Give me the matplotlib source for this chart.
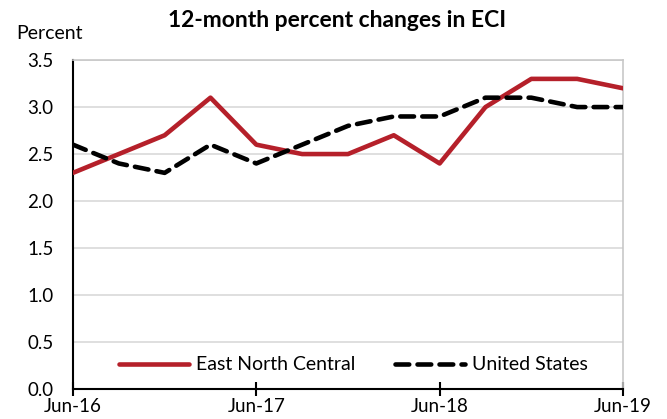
import matplotlib.pyplot as plt
import numpy as np

plt.rcParams['font.family'] = ['Lato', 'DejaVu Sans']

# quarterly, Jun-16 .. Jun-19
quarters = ['Jun-16', 'Sep-16', 'Dec-16', 'Mar-17', 'Jun-17', 'Sep-17', 'Dec-17',
            'Mar-18', 'Jun-18', 'Sep-18', 'Dec-18', 'Mar-19', 'Jun-19']
enc = [2.3, 2.5, 2.7, 3.1, 2.6, 2.5, 2.5, 2.7, 2.4, 3.0, 3.3, 3.3, 3.2]
us = [2.6, 2.4, 2.3, 2.6, 2.4, 2.6, 2.8, 2.9, 2.9, 3.1, 3.1, 3.0, 3.0]
tick_labels = ['Jun-16', 'Jun-17', 'Jun-18', 'Jun-19']

x = np.arange(len(quarters))

fig = plt.figure(figsize=(6.67, 4.19), dpi=100)
ax = fig.add_axes([0.1094, 0.0716, 0.8246, 0.785])

ax.plot(x, enc, color='#B5202A', lw=3.3, solid_capstyle='round',
        label='East North Central', zorder=3)
ax.plot(x, us, color='black', lw=3.3, ls=(0, (3.0, 1.8)), dash_capstyle='round',
        label='United States', zorder=3)

ax.set_xlim(0, 12)
ax.set_ylim(0, 3.5)
ax.set_yticks(np.arange(0, 3.51, 0.5))
ax.set_yticklabels([f'{v:.1f}' for v in np.arange(0, 3.51, 0.5)])
ax.set_xticks([0, 4, 8, 12])
ax.set_xticklabels(tick_labels)
ax.grid(axis='y', color='#D9D9D9', lw=1.2)
ax.set_axisbelow(True)

ax.tick_params(axis='x', direction='inout', length=9.5, width=1.5, labelsize=13.5, pad=2)
ax.tick_params(axis='y', length=0, labelsize=13.5, pad=14)

for s in ['left', 'bottom']:
    ax.spines[s].set_color('black')
    ax.spines[s].set_linewidth(1.5)
for s in ['top', 'right']:
    ax.spines[s].set_color('#C8C8C8')
    ax.spines[s].set_linewidth(1.2)

ax.legend(loc='center', bbox_to_anchor=(0.51, 0.073), ncol=2, frameon=False,
          fontsize=14, handlelength=3.6, handletextpad=0.4, columnspacing=2.0,
          borderpad=0, borderaxespad=0)

fig.text(0.505, 0.952, '12-month percent changes in ECI', ha='center', va='center',
         fontsize=16.5, fontweight='bold')
fig.text(0.025, 0.921, 'Percent', ha='left', va='center', fontsize=14)

fig.savefig('out.png', dpi=100)
